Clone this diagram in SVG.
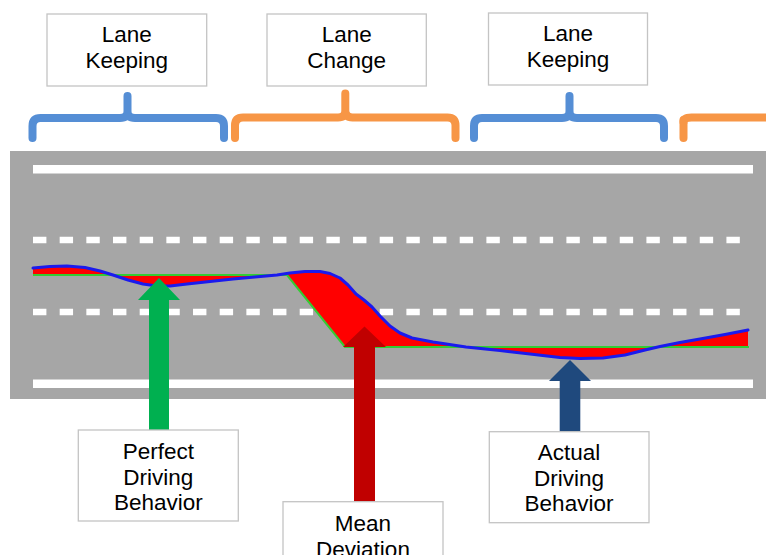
<svg xmlns="http://www.w3.org/2000/svg" width="766" height="555" viewBox="0 0 766 555">
<style>
.box{fill:#fff;stroke:#c4c4c4;stroke-width:1.3}
.lbl{font-family:"Liberation Sans",Arial,sans-serif;font-size:22.5px;fill:#000;text-anchor:middle}
.brB{fill:none;stroke:#558ed5;stroke-width:8;stroke-linecap:round;stroke-linejoin:round}
.brO{fill:none;stroke:#f79646;stroke-width:8;stroke-linecap:round;stroke-linejoin:round}
.solid{fill:#fff}
.dash{fill:none;stroke:#fff;stroke-width:6.5;stroke-dasharray:13.4 13.27}
</style>
<rect width="766" height="555" fill="#fff"/>
<g id="road">
<rect x="10" y="151" width="756" height="248" fill="#a6a6a6"/>
<rect class="solid" x="33" y="165" width="720" height="8.5"/>
<rect class="solid" x="33" y="379.5" width="720" height="8.5"/>
<line class="dash" x1="33" y1="240" x2="740" y2="240"/>
<line class="dash" x1="33" y1="312" x2="740" y2="312"/>
</g>
<g id="trajectories">
<path fill="#ff0000" d="M33,268 L50,266.5 67,266 85,267.5 100,271 113,275 128,280 143,284 157,286 170,286 187,284 210,281.5 233,279 255,277 277,275 290,273 305,271.5 320,271.5 330,273.5 340,278 348,285 356,294 364,300 372,307 380,316 390,326 400,333 412,338 433,342 466,347 500,350.5 530,354 560,357.5 580,358.5 603,358 625,355 645,350 660,346.5 680,342.5 700,339 725,334.5 748,330 L748,347 345,347 287,275 33,275 Z"/>
<path fill="none" stroke="#33cc33" stroke-width="2" d="M33,275 H287 L345,347 H749"/>
<polyline fill="none" stroke="#1a1aee" stroke-width="3" stroke-linejoin="round" stroke-linecap="round" points="33,268 50,266.5 67,266 85,267.5 100,271 113,275 128,280 143,284 157,286 170,286 187,284 210,281.5 233,279 255,277 277,275 290,273 305,271.5 320,271.5 330,273.5 340,278 348,285 356,294 364,300 372,307 380,316 390,326 400,333 412,338 433,342 466,347 500,350.5 530,354 560,357.5 580,358.5 603,358 625,355 645,350 660,346.5 680,342.5 700,339 725,334.5 748,330"/>
</g>
<g id="connectors">
<path class="brB" d="M32.5,138 V126 Q32.5,118 40.5,118 H120 Q127.5,118 127.5,111 V96 M127.5,111 Q127.5,118 135,118 H216 Q224,118 224,126 V138"/>
<path class="brO" d="M235,138 V125.5 Q235,117.5 243,117.5 H338 Q345.3,117.5 345.3,110.5 V93.5 M345.3,110.5 Q345.3,117.5 352.5,117.5 H447.5 Q455.5,117.5 455.5,125.5 V138"/>
<path class="brB" d="M474,138 V126 Q474,118 482,118 H562 Q569.5,118 569.5,111 V96 M569.5,111 Q569.5,118 577,118 H656 Q664,118 664,126 V138"/>
<path class="brO" d="M683.5,122 Q683.5,117.5 691.5,117.5 H770"/>
<path class="brO" d="M683.5,120 V138"/>
<polygon fill="#00b050" points="159,278 180,300 169,300 169,430 149,430 149,300 138,300"/>
<polygon fill="#c00000" points="364.5,326.5 386,347 375,347 375,502 354,502 354,347 343,347"/>
<polygon fill="#1f497d" points="570,360 591,381 580.3,381 580.3,432 559.7,432 559.7,381 549,381"/>
</g>
<g id="lane-keeping-1">
<rect class="box" x="47" y="14" width="159.7" height="72"/>
<text class="lbl" x="126.8" y="42">Lane</text>
<text class="lbl" x="126.8" y="68">Keeping</text>
</g>
<g id="lane-change">
<rect class="box" x="267" y="14" width="159.3" height="72"/>
<text class="lbl" x="346.7" y="42">Lane</text>
<text class="lbl" x="346.7" y="68">Change</text>
</g>
<g id="lane-keeping-2">
<rect class="box" x="488.5" y="13" width="159" height="72"/>
<text class="lbl" x="568" y="41">Lane</text>
<text class="lbl" x="568" y="67">Keeping</text>
</g>
<g id="perfect-driving">
<rect class="box" x="78.3" y="430" width="160" height="91"/>
<text class="lbl" x="158.3" y="459">Perfect</text>
<text class="lbl" x="158.3" y="484.5">Driving</text>
<text class="lbl" x="158.3" y="510">Behavior</text>
</g>
<g id="mean-deviation">
<rect class="box" x="283" y="501.7" width="160" height="100"/>
<text class="lbl" x="363" y="531">Mean</text>
<text class="lbl" x="363" y="556.5">Deviation</text>
</g>
<g id="actual-driving">
<rect class="box" x="489.3" y="431.7" width="159.7" height="91"/>
<text class="lbl" x="569" y="460">Actual</text>
<text class="lbl" x="569" y="486">Driving</text>
<text class="lbl" x="569" y="511">Behavior</text>
</g>
</svg>
